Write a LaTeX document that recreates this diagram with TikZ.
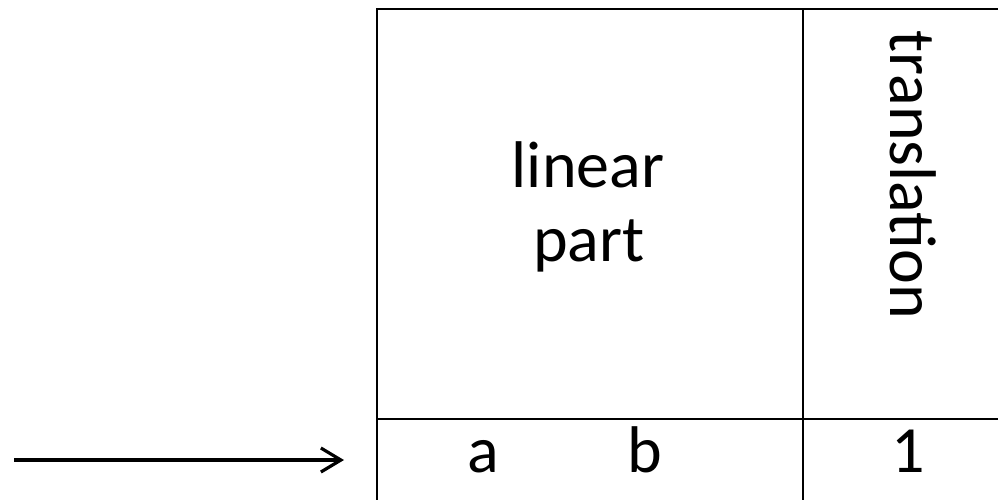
\documentclass[tikz,border=0pt]{standalone}
\usepackage{fontspec}
\setmainfont{Carlito}
\usetikzlibrary{arrows.meta}
\begin{document}
\begin{tikzpicture}[x=1pt,y=-1pt,
  rule/.style={line width=2.8pt, line cap=rect},
  label/.style={font=\fontsize{66}{65}\selectfont, inner sep=0pt, anchor=base},
  pointer/.style={line width=3.2pt, -{Straight Barb[length=20pt,width=24pt,line width=3.2pt]}}]
  \useasboundingbox (0,0) rectangle (998,500);
  \clip (0,0) rectangle (998,500);
  % matrix outline, running off the page at the right and bottom
  \coordinate (tl) at (377,9);
  \coordinate (tr) at (1010,9);
  \coordinate (bl) at (377,510);
  \coordinate (splittop) at (803,9);
  \coordinate (splitbot) at (803,510);
  \coordinate (rowl) at (377,419);
  \coordinate (rowr) at (1010,419);
  \draw[rule] (bl) -- (tl) -- (tr);
  \draw[rule] (splittop) -- (splitbot);
  \draw[rule] (rowl) -- (rowr);
  % cell labels
  \node[label] (lin) at (588,187) {linear};
  \node[label] (part) at (589,261) {part};
  \node[label, rotate=-90] (trans) at (890,175) {translation};
  \node[label] (a) at (483,472) {a};
  \node[label] (b) at (645,472) {b};
  \node[label] (one) at (908,472) {1};
  % pointer to the bottom row
  \coordinate (tail) at (14,460);
  \coordinate (head) at (344,460);
  \draw[pointer] (tail) -- (head);
\end{tikzpicture}
\end{document}
